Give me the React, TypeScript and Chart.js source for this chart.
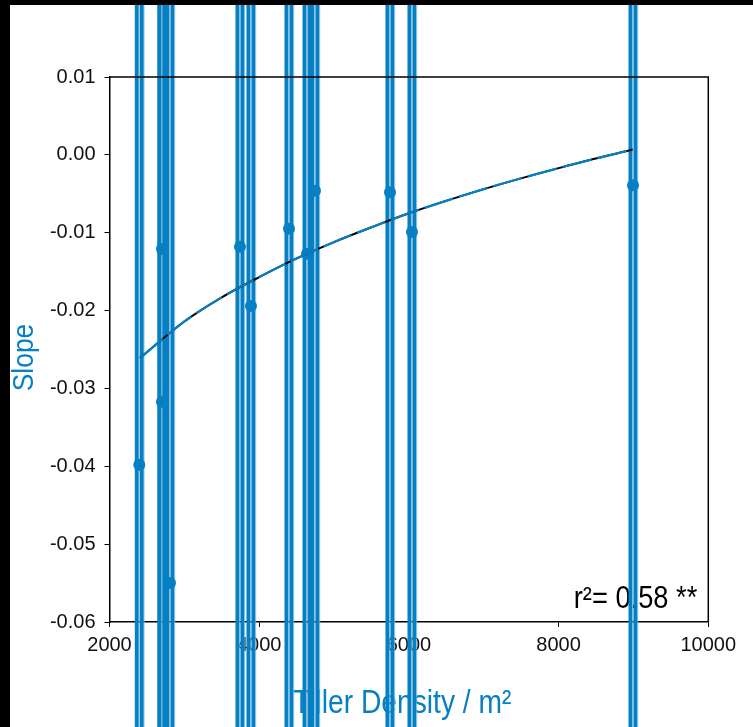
import React, { useEffect, useRef } from "react";
import { Chart, registerables } from "chart.js";

Chart.register(...registerables);

// ---- data ----
const tillerDensity = [2398, 2701, 2701, 2808, 3743, 3890, 4398, 4639, 4745, 5747, 6041, 8994];
const slope = [-0.0398, -0.0121, -0.0317, -0.055, -0.0118, -0.0194, -0.0095, -0.0127, -0.0046, -0.0048, -0.0099, -0.0039];
// error bars run far beyond the plotted range
const slopeErr = [0.12, 0.12, 0.12, 0.12, 0.12, 0.12, 0.12, 0.12, 0.12, 0.12, 0.12, 0.12];

// logarithmic trend line
const fitX = [2407, 3000, 3500, 4000, 4500, 5000, 5500, 6000, 7000, 8000, 8990];
const fitY = [-0.0261, -0.0214, -0.0183, -0.0157, -0.0133, -0.0112, -0.0093, -0.0075, -0.0044, -0.0017, 0.0007];

const xTicks = [2000, 4000, 6000, 8000, 10000];
const yTicks = [-0.06, -0.05, -0.04, -0.03, -0.02, -0.01, 0.0, 0.01];

const xTitle = "Tiller Density / m\u00B2";
const yTitle = "Slope";
const statText = "r\u00B2= 0.58 **";

const BLUE = "#0780c3";
const LIGHT = "#7fc0e6";
const SANS = "'Liberation Sans', Arial, sans-serif";

function condensedText(
  ctx: CanvasRenderingContext2D,
  text: string,
  x: number,
  y: number,
  size: number,
  color: string,
  sx: number,
  align: CanvasTextAlign,
  baseline: CanvasTextBaseline,
  rotation = 0
) {
  ctx.save();
  ctx.translate(x, y);
  if (rotation) ctx.rotate(rotation);
  ctx.scale(sx, 1);
  ctx.font = `${size}px ${SANS}`;
  ctx.fillStyle = color;
  ctx.textAlign = align;
  ctx.textBaseline = baseline;
  ctx.fillText(text, 0, 0);
  ctx.restore();
}

const titlesAndText = {
  id: "titlesAndText",
  beforeDatasetsDraw(chart: any) {
    const { ctx, chartArea } = chart;
    // x axis title
    condensedText(ctx, xTitle, 283, chart.height - 14, 34, BLUE, 0.83, "left", "alphabetic");
    // y axis title
    condensedText(
      ctx,
      yTitle,
      14.5,
      (chartArea.top + chartArea.bottom) / 2 + 8,
      30,
      BLUE,
      0.88,
      "center",
      "middle",
      -Math.PI / 2
    );
    // statistic
    condensedText(ctx, statText, chartArea.right - 11, chartArea.bottom - 23, 31, "#000", 0.88, "right", "middle");
  },
  afterDatasetsDraw(chart: any) {
    const { ctx, chartArea } = chart;
    ctx.save();
    ctx.strokeStyle = "#000";
    ctx.lineWidth = 1.5;
    ctx.beginPath();
    ctx.moveTo(chartArea.left, chartArea.top);
    ctx.lineTo(chartArea.right, chartArea.top);
    ctx.lineTo(chartArea.right, chartArea.bottom);
    ctx.stroke();
    ctx.restore();
  },
};

const errorBars = {
  id: "errorBars",
  beforeDatasetsDraw(chart: any) {
    const { ctx, scales } = chart;
    const x = scales.x;
    const y = scales.y;
    ctx.save();
    tillerDensity.forEach((d, i) => {
      const px = x.getPixelForValue(d);
      const top = y.getPixelForValue(slope[i] + slopeErr[i]);
      const bot = y.getPixelForValue(slope[i] - slopeErr[i]);
      [-2.5, 2.5].forEach((off) => {
        ctx.fillStyle = BLUE;
        ctx.fillRect(px + off - 2, top, 4, bot - top);
        ctx.fillStyle = LIGHT;
        ctx.fillRect(px + off + 2, top, 0.7, bot - top);
      });
    });
    ctx.restore();
  },
};

export default function App() {
  const ref = useRef<HTMLCanvasElement | null>(null);

  useEffect(() => {
    if (!ref.current) return;
    const points = tillerDensity.map((v, i) => ({ x: v, y: slope[i] }));
    const fit = fitX.map((v, i) => ({ x: v, y: fitY[i] }));
    const chart = new Chart(ref.current, {
      type: "scatter",
      data: {
        datasets: [
          {
            label: "fit-black",
            type: "line",
            data: fit,
            borderColor: "#000",
            borderWidth: 2,
            pointRadius: 0,
            cubicInterpolationMode: "monotone",
            fill: false,
            order: 2,
          } as any,
          {
            label: "fit-blue",
            type: "line",
            data: fit,
            borderColor: BLUE,
            borderWidth: 2.2,
            borderDash: [30, 6],
            pointRadius: 0,
            cubicInterpolationMode: "monotone",
            fill: false,
            order: 1,
          } as any,
          {
            label: "Slope",
            data: points,
            backgroundColor: BLUE,
            borderColor: BLUE,
            pointRadius: 6,
            pointBorderWidth: 0,
            order: 3,
          },
        ],
      },
      options: {
        animation: false,
        responsive: false,
        maintainAspectRatio: false,
        layout: { padding: { left: 0, top: 72, right: 44.7, bottom: 0 } },
        plugins: {
          legend: { display: false },
          tooltip: { enabled: false },
        },
        scales: {
          x: {
            type: "linear",
            min: xTicks[0],
            max: xTicks[xTicks.length - 1],
            afterBuildTicks: (s: any) => {
              s.ticks = xTicks.map((v) => ({ value: v }));
            },
            ticks: {
              color: "#111",
              font: { family: SANS, size: 20 },
              padding: 6,
              maxRotation: 0,
              callback: (v: any) => String(v),
            },
            grid: { drawOnChartArea: false, drawTicks: true, tickLength: 5, color: "#000" },
            border: { display: true, color: "#000", width: 1.5 },
            title: { display: false, text: xTitle },
            afterFit: (s: any) => {
              s.height = 105;
            },
          },
          y: {
            type: "linear",
            min: yTicks[0],
            max: yTicks[yTicks.length - 1],
            afterBuildTicks: (s: any) => {
              s.ticks = yTicks.map((v) => ({ value: v }));
            },
            ticks: {
              color: "#111",
              font: { family: SANS, size: 20 },
              padding: 9,
              callback: (v: any) => (Math.abs(v) < 1e-9 ? "0.00" : Number(v).toFixed(2)),
            },
            grid: { drawOnChartArea: false, drawTicks: true, tickLength: 5, color: "#000" },
            border: { display: true, color: "#000", width: 1.5 },
            title: { display: false, text: yTitle },
            afterFit: (s: any) => {
              s.width = 99.5;
            },
          },
        },
      },
      plugins: [titlesAndText, errorBars],
    });
    return () => chart.destroy();
  }, []);

  return (
    <div
      style={{
        position: "fixed",
        left: 0,
        top: 0,
        width: "100vw",
        height: "100vh",
        background: "#000",
        overflow: "hidden",
      }}
    >
      <canvas
        ref={ref}
        width={743}
        height={722}
        style={{ position: "absolute", left: 10, top: 5, width: 743, height: 722, background: "#fff" }}
      />
    </div>
  );
}
